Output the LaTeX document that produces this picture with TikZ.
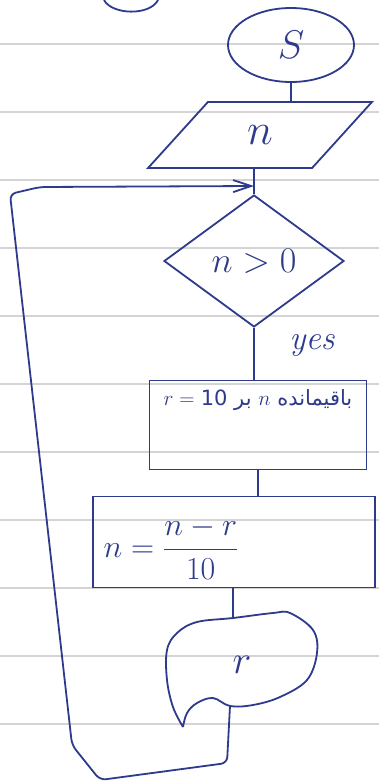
\documentclass[tikz,border=0pt]{standalone}
\usepackage{fix-cm}
\usepackage{amsmath}
\usepackage{fontspec}
\usetikzlibrary{arrows.meta,positioning,shapes.geometric}
\definecolor{Ink}{HTML}{2E3A8C}
\definecolor{Rule}{HTML}{D4D4D4}
\newfontfamily\persianfont[Script=Arabic]{DejaVu Sans}
\TeXXeTstate=1

\begin{document}
\begin{tikzpicture}[x=1pt, y=-1pt, >=Latex,
    pen/.style={draw=Ink, text=Ink, line width=1.8pt},
    rule/.style={draw=Rule, line width=1.2pt}]
  \useasboundingbox (0,0) rectangle (379,782);
  \fill[white] (0,0) rectangle (379,782);
  % ruled paper
  \foreach \k in {0,...,10}
    \draw[rule] (0,{44+68*\k}) -- (379,{44+68*\k});
  % edge of the sketch above
  \draw[pen] (104,0) .. controls (112,15) and (150,16) .. (158,0);

  \node[pen, ellipse, minimum width=126, minimum height=74, font=\fontsize{40}{44}\selectfont] (start) at (291,45) {$S$};
  \node[pen, trapezium, trapezium left angle=54, trapezium right angle=126, trapezium stretches=true, minimum width=225, minimum height=66, font=\fontsize{44}{48}\selectfont] (input) at (260,135) {$n$};
  \coordinate (join) at (254,186);
  \node[pen, diamond, aspect=1.36, minimum width=180, minimum height=132, inner sep=0pt, font=\fontsize{36}{40}\selectfont] (test) at (254,261) {$n>0$};
  \node[text=Ink, font=\itshape\fontsize{34}{38}\selectfont] (yes) at (312,345) {yes};
  \node[pen, minimum width=217, minimum height=89, label={[text=Ink, anchor=north, yshift=-6, font=\fontsize{21}{25}\selectfont]north:{$r=$\ {\persianfont\beginR باقیمانده \beginL$n$\endL{} بر \beginL10\endL\endR}}}] (rem) at (258,425) {};
  \node[pen, minimum width=282, minimum height=91, label={[text=Ink, anchor=west, xshift=8, yshift=-6, font=\fontsize{32}{36}\selectfont]west:{$n=\dfrac{n-r}{10}$}}] (upd) at (234,542) {};
  \node[text=Ink, minimum width=150, minimum height=104, font=\fontsize{40}{44}\selectfont] (out) at (242,665) {$r$};
  \begin{scope}[shift={(out.center)}]
    \draw[pen] plot[smooth, tension=0.6] coordinates {(-59,62) (-69,42) (-75,15) (-75,-15) (-65,-32) (-45,-43) (-9,-47) (31,-52) (48,-52) (71,-35) (75,-12) (65,15) (38,32) (11,40) (-12,41) (-29,33) (-45,38) (-55,48) (-59,62)};
    \coordinate (outtop) at (-9,-47);
    \coordinate (outfoot) at (-12,41);
  \end{scope}

  \draw[pen] (start.south) -- (start.south |- input.north);
  \draw[pen] (join |- input.south) -- (join) -- (test.north);
  \draw[pen] (test.south) -- (test.south |- rem.north);
  \draw[pen] (rem.south) -- (rem.south |- upd.north);
  \draw[pen] (outtop |- upd.south) -- (outtop);
  \draw[pen, rounded corners=6pt, -{Straight Barb[length=18pt, width=12pt]}] (outfoot) -- ++(-3,57) -- (100,780) -- (72,745) -- (10,194) -- (40,187) -- (join);
\end{tikzpicture}
\end{document}
